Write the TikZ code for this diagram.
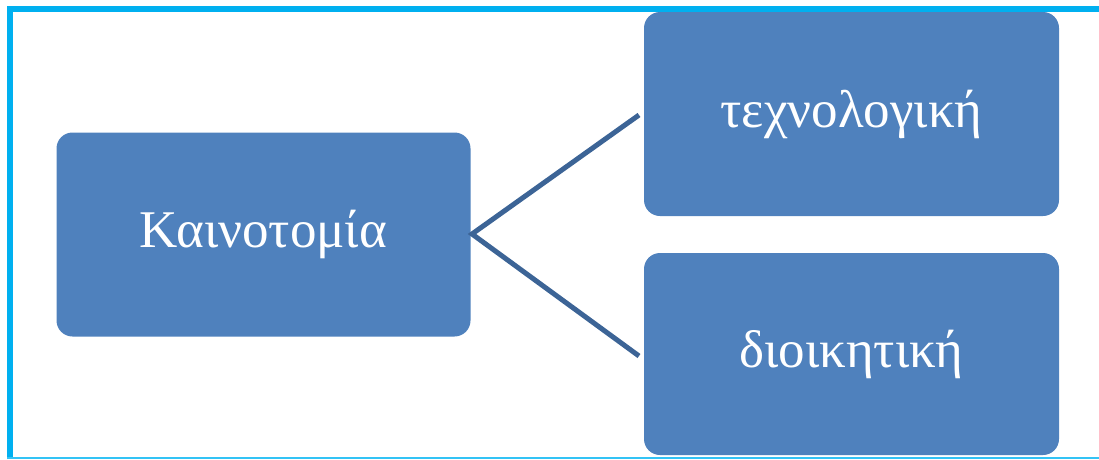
\documentclass[tikz,border=0pt]{standalone}
\usepackage{fontspec}
\setmainfont{Liberation Serif}
\definecolor{boxfill}{HTML}{4F81BD}
\definecolor{linec}{HTML}{3C6496}
\definecolor{framec}{HTML}{00B0F0}
\definecolor{framelight}{HTML}{33C3F5}
\begin{document}
\begin{tikzpicture}[x=1pt,y=-1pt,
  boxnode/.style={draw=none,fill=boxfill,rounded corners=16pt,text=white,font=\fontsize{53}{60}\selectfont,inner sep=0pt},
  conn/.style={draw=linec,line width=5pt}]
\useasboundingbox (0,0) rectangle (1099,459);
% frame
\draw[framec,line width=5.7pt] (9.85,459) -- (9.85,8.85) -- (1099,8.85);
\draw[framelight,line width=2.3pt] (7,457.85) -- (1099,457.85);
% boxes
\node[boxnode,minimum width=414pt,minimum height=204pt] (k) at (263.5,234.5) {Καινοτομία};
\node[boxnode,minimum width=415pt,minimum height=204pt] (t) at (851.5,114) {τεχνολογική};
\node[boxnode,minimum width=415pt,minimum height=202pt] (d) at (851.5,354) {διοικητική};
\coordinate (j) at (472,234);
\coordinate (a) at (639,115);
\coordinate (b) at (639,356);
\draw[conn] (a) -- (j) -- (b);
\end{tikzpicture}
\end{document}
